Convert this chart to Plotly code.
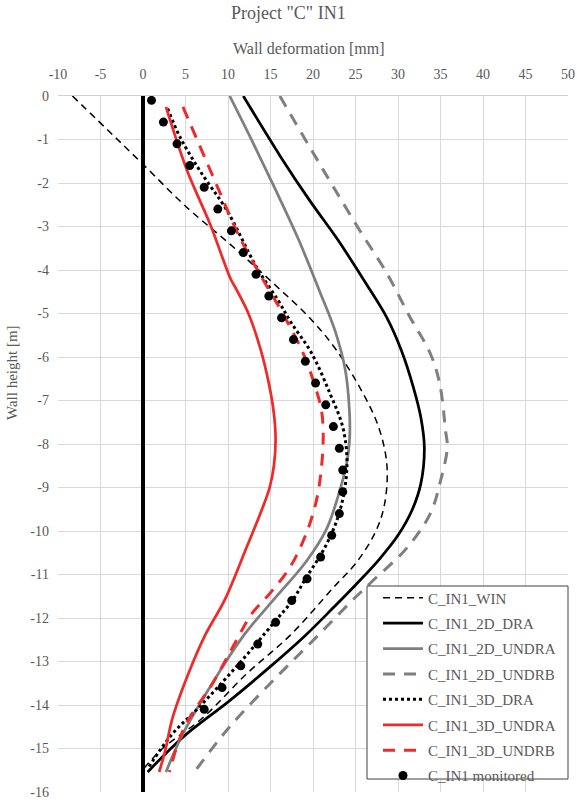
import plotly.graph_objects as go

# ---------------- data ----------------
win_x = [-8.3, -3.0, 0.15, 5.1, 10.2, 15.3, 19.6, 22.6, 25.5, 27.7, 28.7, 28.4, 27.4, 25.2, 22.4, 17.3, 12.1, 7.0, 2.3, 0.15]
win_y = [0, -1.0, -1.6, -2.55, -3.4, -4.3, -5.1, -5.8, -6.7, -7.6, -8.5, -9.4, -10.0, -10.7, -11.3, -12.4, -13.3, -14.3, -15.0, -15.45]

dra2_x = [11.8, 16.2, 19.6, 22.9, 26.2, 28.7, 30.4, 31.8, 32.7, 33.1, 32.7, 31.7, 30.0, 27.8, 25.2, 22.2, 19.1, 14.9, 10.2, 4.7, 0.55]
dra2_y = [0, -1.4, -2.4, -3.3, -4.3, -5.1, -5.85, -6.69, -7.4, -8.08, -8.9, -9.5, -10.1, -10.65, -11.2, -11.8, -12.4, -13.13, -13.9, -14.74, -15.54]

undra2_x = [10.2, 13.0, 15.7, 18.3, 20.8, 22.6, 23.8, 24.3, 24.3, 24.0, 23.1, 21.6, 19.2, 15.5, 12.0, 8.6, 4.7, 2.7]
undra2_y = [0, -1.1, -2.2, -3.3, -4.5, -5.4, -6.3, -7.3, -7.9, -8.4, -9.1, -9.95, -10.7, -11.55, -12.36, -13.36, -14.66, -15.54]

undrb2_x = [16.1, 19.6, 22.4, 25.5, 28.7, 31.4, 33.8, 34.9, 35.6, 35.8, 35.0, 33.8, 31.0, 27.0, 24.6, 20.4, 15.7, 10.2, 6.05]
undrb2_y = [0, -1.17, -2.09, -3.09, -4.08, -5.08, -5.92, -6.61, -7.7, -8.08, -8.85, -9.6, -10.4, -11.15, -11.6, -12.44, -13.36, -14.5, -15.54]

dra3_x = [2.9, 4.4, 6.7, 9.9, 13.4, 15.9, 17.4, 19.8, 22.0, 23.5, 24.0, 23.7, 22.8, 21.2, 19.2, 17.6, 15.3, 11.3, 6.6, 3.3, 0.6]
dra3_y = [-0.29, -0.96, -1.72, -2.64, -3.95, -4.7, -5.2, -5.9, -6.84, -7.61, -8.37, -9.07, -9.76, -10.45, -11.07, -11.59, -12.13, -13.05, -14.05, -14.7, -15.45]

undra3_x = [2.7, 5.2, 7.9, 10.3, 11.0, 12.4, 13.8, 14.8, 15.4, 15.6, 15.4, 14.9, 14.0, 12.2, 9.6, 7.4, 5.5, 3.5, 2.6, 1.9]
undra3_y = [-0.25, -1.72, -2.95, -4.2, -4.45, -5.0, -5.8, -6.6, -7.3, -7.9, -8.5, -9.0, -9.5, -10.37, -11.59, -12.36, -13.2, -14.28, -15.06, -15.54]

undrb3_x = [4.7, 8.3, 11.4, 14.2, 16.5, 18.9, 20.4, 21.0, 21.2, 21.0, 20.4, 19.2, 17.3, 14.9, 12.8, 11.0, 8.2, 4.9, 3.1]
undrb3_y = [-0.25, -1.88, -3.26, -4.25, -5.02, -5.94, -6.77, -7.23, -7.76, -8.53, -9.3, -10.06, -10.83, -11.44, -11.9, -12.51, -13.5, -14.5, -15.54]

mon_x = [1.0, 2.4, 4.0, 5.5, 7.2, 8.8, 10.4, 11.8, 13.3, 14.8, 16.3, 17.7, 19.1, 20.3, 21.5,
         22.4, 23.1, 23.5, 23.5, 23.1, 22.2, 20.9, 19.3, 17.5, 15.6, 13.5, 11.5, 9.3, 7.2]
mon_y = [-0.1, -0.6, -1.1, -1.6, -2.1, -2.6, -3.1, -3.6, -4.1, -4.6, -5.1, -5.6, -6.1, -6.6, -7.1,
         -7.6, -8.1, -8.6, -9.1, -9.6, -10.1, -10.6, -11.1, -11.6, -12.1, -12.6, -13.1, -13.6, -14.1]

x_ticks = list(range(-10, 55, 5))
y_ticks = list(range(0, -17, -1))

RED = "#ee2b2b"
GRAY = "#7f7f7f"
TXT = "#595959"
SERIF = "Liberation Serif"

fig = go.Figure()


def line_trace(x, y, name, color, width, dash, group):
    return go.Scatter(x=x, y=y, name=name, mode="lines", legendgroup=group,
                      line=dict(color=color, width=width, dash=dash, shape="spline", smoothing=1.0))


fig.add_trace(line_trace(win_x, win_y, "C_IN1_WIN", "black", 1.5, "7px,5px", "a"))
fig.add_trace(line_trace(dra2_x, dra2_y, "C_IN1_2D_DRA", "black", 2.75, "solid", "b"))
fig.add_trace(line_trace(undra2_x, undra2_y, "C_IN1_2D_UNDRA", GRAY, 2.75, "solid", "c"))
fig.add_trace(line_trace(undrb2_x, undrb2_y, "C_IN1_2D_UNDRB", GRAY, 3, "12px,9px", "d"))
fig.add_trace(line_trace(dra3_x, dra3_y, "C_IN1_3D_DRA", "black", 3, "3px,3px", "e"))
fig.add_trace(line_trace(undra3_x, undra3_y, "C_IN1_3D_UNDRA", RED, 2.75, "solid", "f"))
fig.add_trace(line_trace(undrb3_x, undrb3_y, "C_IN1_3D_UNDRB", RED, 3, "12px,9px", "g"))
fig.add_trace(go.Scatter(x=mon_x, y=mon_y, name="C_IN1 monitored", mode="markers", legendgroup="h",
                         marker=dict(color="black", size=9)))

# legend box (drawn as a shape so its size matches the reference)
fig.add_shape(type="rect", xref="paper", yref="paper",
              x0=(367 - 58) / 510, x1=(568 - 58) / 510,
              y0=(792 - 779) / 696, y1=(792 - 586) / 696,
              fillcolor="white", line=dict(color="#404040", width=1), layer="above")

fig.update_layout(
    width=577, height=800,
    margin=dict(l=58, r=9, t=96, b=8, autoexpand=False),
    paper_bgcolor="white", plot_bgcolor="white",
    font=dict(family=SERIF, color=TXT, size=14),
    showlegend=True,
    legend=dict(x=(378 - 58) / 510, y=(792 - 581.5) / 696, xanchor="left", yanchor="top",
                bgcolor="rgba(0,0,0,0)", borderwidth=0, tracegroupgap=2.9, itemwidth=40,
                font=dict(family=SERIF, color=TXT, size=15)),
    xaxis=dict(range=[-10, 50], side="top", tickvals=x_ticks, ticktext=[str(v) for v in x_ticks],
               showgrid=True, gridcolor="#d9d9d9", gridwidth=1,
               zeroline=True, zerolinecolor="black", zerolinewidth=4,
               showline=True, linecolor="#d0d0d0", mirror=False,
               ticks="", ticklabelstandoff=10, tickfont=dict(size=14, color=TXT, family=SERIF)),
    yaxis=dict(range=[-16, 0], tickvals=y_ticks, ticktext=[str(v) for v in y_ticks],
               showgrid=True, gridcolor="#d9d9d9", gridwidth=1,
               zeroline=False, showline=False,
               ticks="", ticklabelstandoff=8, tickfont=dict(size=14, color=TXT, family=SERIF)),
    annotations=[
        dict(text='Project "C" IN1', xref="paper", yref="paper", x=(288.5 - 58) / 510, y=(792 - 13) / 696,
             showarrow=False, xanchor="center", yanchor="middle", font=dict(size=18, color=TXT, family=SERIF)),
        dict(text="Wall deformation [mm]", xref="paper", yref="paper", x=(309 - 58) / 510, y=(792 - 48) / 696,
             showarrow=False, xanchor="center", yanchor="middle", font=dict(size=16, color=TXT, family=SERIF)),
        dict(text="Wall height [m]", xref="paper", yref="paper", x=(12 - 58) / 510, y=(792 - 373) / 696,
             showarrow=False, xanchor="center", yanchor="middle", textangle=-90,
             font=dict(size=15, color=TXT, family=SERIF)),
    ],
)

fig.write_html("out.html")
